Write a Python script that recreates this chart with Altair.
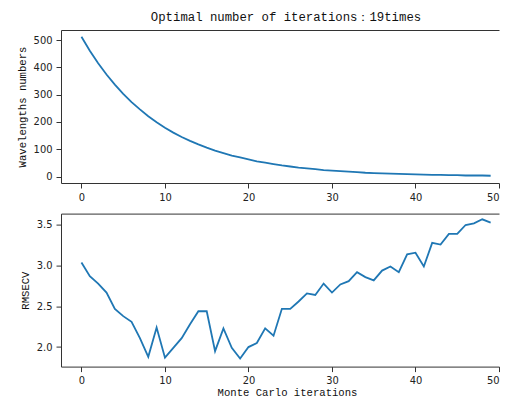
import altair as alt
import pandas as pd

iterations = list(range(50))
wavelengths = [512, 461, 415, 374, 337, 303, 273, 246, 221, 199,
               179, 161, 145, 131, 118, 106, 95, 86, 77, 70,
               63, 56, 51, 46, 41, 37, 33, 30, 27, 24,
               22, 20, 18, 16, 14, 13, 12, 11, 10, 9,
               8, 7, 6, 6, 5, 5, 4, 4, 4, 3]
rmsecv = [3.04, 2.87, 2.78, 2.67, 2.47, 2.38, 2.31, 2.11, 1.88, 2.24,
          1.87, 1.99, 2.11, 2.28, 2.44, 2.44, 1.95, 2.23, 1.99, 1.86,
          2.00, 2.05, 2.23, 2.14, 2.47, 2.47, 2.56, 2.66, 2.64, 2.78,
          2.67, 2.77, 2.81, 2.92, 2.86, 2.82, 2.94, 2.99, 2.92, 3.14,
          3.16, 2.99, 3.28, 3.26, 3.39, 3.39, 3.50, 3.52, 3.57, 3.53]
x_ticks = [0, 10, 20, 30, 40, 50]
top_ticks = [0, 100, 200, 300, 400, 500]
bottom_ticks = [2.0, 2.5, 3.0, 3.5]

df1 = pd.DataFrame({"it": iterations, "w": wavelengths})
df2 = pd.DataFrame({"it": iterations, "r": rmsecv})

LABEL_FONT = "DejaVu Sans Condensed"
TITLE_FONT = "Liberation Mono"
COLOR = "#1f77b4"
FRAME = "#333333"
W = 438
xscale = alt.Scale(domain=[-2.45, 50], nice=False, zero=False)


def xaxis(title):
    return alt.Axis(title=title, values=x_ticks, grid=False, tickSize=5,
                    labelPadding=3, labelFont=LABEL_FONT, labelFontSize=11,
                    labelColor="#222", tickColor=FRAME, domain=True,
                    domainColor=FRAME, titleFont=TITLE_FONT, titleFontSize=10.6,
                    titleFontWeight="normal", titleColor="#111", titlePadding=2,
                    titleX=226, labelFlush=True)


def topaxis():
    return alt.Axis(orient="top", title=None, labels=False, ticks=False,
                    grid=False, domain=True, domainColor=FRAME)


def yaxis(title, values, fmt):
    return alt.Axis(title=title, values=values, format=fmt, grid=False,
                    tickSize=5, labelPadding=4, labelFont=LABEL_FONT,
                    labelFontSize=11, labelColor="#222", tickColor=FRAME,
                    domain=True, domainColor=FRAME, titleFont=TITLE_FONT,
                    titleFontSize=10.6, titleFontWeight="normal",
                    titleColor="#111", titlePadding=6, labelFlush=False)


def panel(df, field, ydomain, ytitle, yticks, fmt, xtitle):
    yscale = alt.Scale(domain=ydomain, nice=False, zero=False)
    line = alt.Chart(df).mark_line(color=COLOR, strokeWidth=1.8).encode(
        x=alt.X("it:Q", scale=xscale, axis=xaxis(xtitle)),
        y=alt.Y(f"{field}:Q", scale=yscale, axis=yaxis(ytitle, yticks, fmt)),
    )
    frame_top = alt.Chart(df).mark_line(opacity=0).encode(
        x=alt.X("it:Q", scale=xscale, axis=topaxis()),
    )
    return alt.layer(line, frame_top).resolve_axis(x="independent")


top = panel(df1, "w", [-23.5, 537], "Wavelengths numbers", top_ticks, "d", None).properties(
    width=W, height=153,
    title=alt.TitleParams("Optimal number of iterations：19times",
                          font=TITLE_FONT, fontSize=12.3, fontWeight="normal",
                          color="#111", offset=7, anchor="middle", dx=6),
)

bottom = panel(df2, "r", [1.76, 3.64], "RMSECV", bottom_ticks, ".1f",
               "Monte Carlo iterations").properties(width=W, height=153)

chart = alt.vconcat(top, bottom, spacing=30.6, bounds="flush").configure_view(
    stroke=None
).properties(
    padding={"left": 9, "top": 2, "right": 0, "bottom": 0},
)

chart.save("out.html", embed_options={"renderer": "svg", "actions": False})
